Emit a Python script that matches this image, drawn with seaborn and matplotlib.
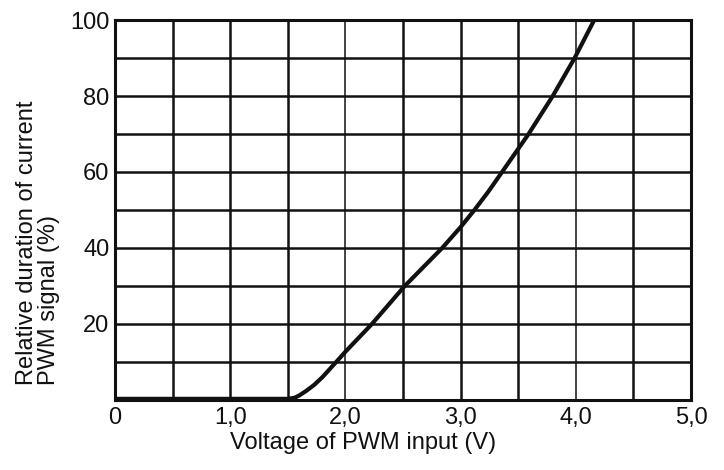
import numpy as np
import pandas as pd
import matplotlib
matplotlib.use("Agg")
import matplotlib.pyplot as plt
from matplotlib.ticker import MultipleLocator, FuncFormatter
import seaborn as sns

# values
voltage = [0.00, 1.50, 1.56, 1.60, 1.66, 1.73, 1.80, 1.92, 2.00, 2.23,
           2.515, 2.84, 3.00, 3.12, 3.24, 3.36, 3.59, 3.80, 3.99, 4.16]
duration = [0.3, 0.3, 0.6, 1.2, 2.4, 4.0, 6.0, 10.0, 12.7, 20.0,
            30.0, 40.0, 45.5, 50.0, 54.8, 60.0, 70.0, 80.0, 90.0, 100.0]

x_label = "Voltage of PWM input (V)"
y_label = "Relative duration of current\nPWM signal (%)"

df = pd.DataFrame({"voltage": voltage, "duration": duration})

sns.set_style("white")
plt.rcParams["font.family"] = ["Liberation Sans", "DejaVu Sans"]

fig = plt.figure(figsize=(7.24, 4.70), dpi=100)
ax = fig.add_axes([115 / 724, 70 / 470, 576 / 724, 380 / 470])

sns.lineplot(data=df, x="voltage", y="duration", ax=ax,
             color="#111111", linewidth=3.0, solid_capstyle="butt", zorder=5)

ax.set_xlim(0, 5)
ax.set_ylim(0, 100)
ax.xaxis.set_major_locator(MultipleLocator(0.5))
ax.yaxis.set_major_locator(MultipleLocator(10))


def fmt_x(v, pos):
    if abs(v) < 1e-9:
        return "0"
    if abs(v - round(v)) < 1e-9:
        return f"{v:.1f}".replace(".", ",")
    return ""


def fmt_y(v, pos):
    if v > 0 and int(round(v)) % 20 == 0:
        return f"{int(round(v))}"
    return ""


ax.xaxis.set_major_formatter(FuncFormatter(fmt_x))
ax.yaxis.set_major_formatter(FuncFormatter(fmt_y))
ax.tick_params(axis="both", length=0, labelsize=17, colors="#111111")
ax.tick_params(axis="x", pad=5)
ax.tick_params(axis="y", pad=4)

ax.grid(True, color="#111111", linewidth=1.8)
# a couple of vertical lines are drawn thinner in the original
for line, tick in zip(ax.get_xgridlines(), ax.get_xticks()):
    if abs(tick - 2.0) < 1e-9 or abs(tick - 4.0) < 1e-9:
        line.set_linewidth(1.1)

for side in ["left", "right", "top", "bottom"]:
    ax.spines[side].set_visible(True)
    ax.spines[side].set_color("#111111")
    ax.spines[side].set_linewidth(2.2)

ax.set_xlabel("")
ax.set_ylabel("")
ax.text(0.43, -0.085, x_label, transform=ax.transAxes, ha="center", va="top",
        fontsize=17, color="#111111")
ax.text(-0.095, 0.04, y_label, transform=ax.transAxes, rotation=90,
        rotation_mode="anchor", ha="left", va="bottom", multialignment="left",
        fontsize=17, color="#111111", linespacing=1.0)

fig.savefig("out.png", dpi=100)
